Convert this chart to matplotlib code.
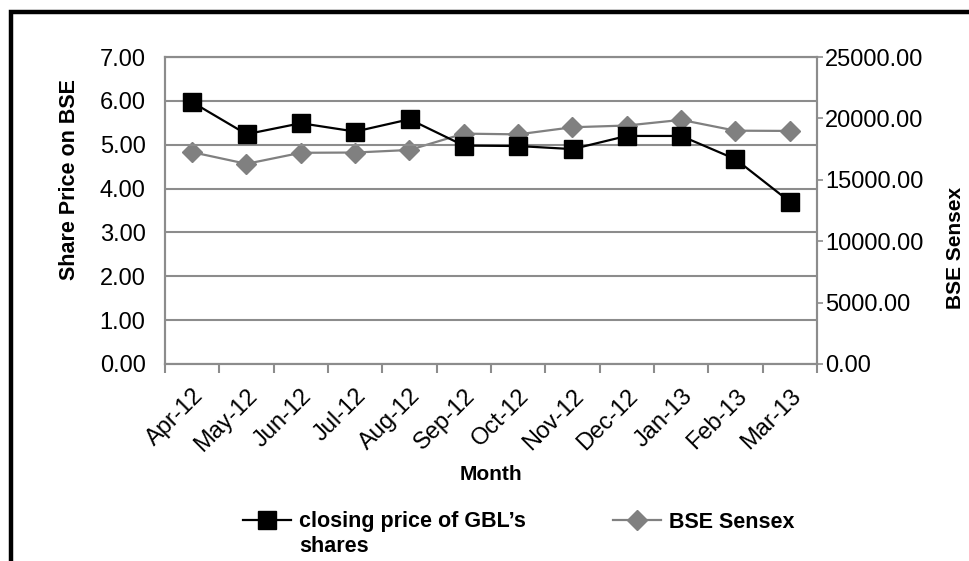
import numpy as np
import matplotlib
matplotlib.use("Agg")
import matplotlib.pyplot as plt
from matplotlib.lines import Line2D
from matplotlib.ticker import FormatStrFormatter, FixedLocator

plt.rcParams['font.family'] = ['Liberation Sans', 'DejaVu Sans']

# ------------------------------------------------------------
# Data
# ------------------------------------------------------------
months = ["Apr-12", "May-12", "Jun-12", "Jul-12", "Aug-12", "Sep-12",
          "Oct-12", "Nov-12", "Dec-12", "Jan-13", "Feb-13", "Mar-13"]
gbl_close = [5.97, 5.24, 5.49, 5.30, 5.58, 4.98, 4.97, 4.90, 5.20, 5.20, 4.67, 3.70]
bse_sensex = [17250, 16300, 17200, 17220, 17430, 18760, 18700, 19280, 19420, 19880, 19000, 18980]

GRID = "#8c8c8c"
SERIES_GRAY = "#808080"

# ------------------------------------------------------------
# Figure
# ------------------------------------------------------------
fig = plt.figure(figsize=(9.69, 5.61), dpi=100)
ax = fig.add_axes([165 / 969, 1 - 364 / 561, (817 - 165) / 969, (364 - 57) / 561])
ax2 = ax.twinx()

x = np.arange(len(months))

ax.plot(x, gbl_close, color="black", lw=1.6, marker="s", ms=13,
        mfc="black", mec="black", zorder=4)
ax2.plot(x, bse_sensex, color=SERIES_GRAY, lw=1.6, marker="D", ms=10.5,
         mfc=SERIES_GRAY, mec=SERIES_GRAY, zorder=3)
ax.set_zorder(ax2.get_zorder() + 1)
ax.patch.set_visible(False)

# left axis
ax.set_xlim(-0.5, len(months) - 0.5)
ax.set_ylim(0, 7)
ax.set_yticks(np.arange(0, 8, 1))
ax.yaxis.set_major_formatter(FormatStrFormatter("%.2f"))
ax.yaxis.grid(True, color=GRID, lw=1.5)
ax.set_axisbelow(True)
ax.tick_params(axis="y", length=0, pad=14, labelsize=17)

# right axis
ax2.set_ylim(0, 25000)
ax2.set_yticks(np.arange(0, 25001, 5000))
ax2.yaxis.set_major_formatter(FormatStrFormatter("%.2f"))
ax2.tick_params(axis="y", length=4, width=1.2, color=GRID, pad=2, labelsize=17)

# x axis: labels at centres, tick marks at boundaries
ax.set_xticks(x)
ax.set_xticklabels(months, rotation=45, ha="right", rotation_mode="anchor")
ax.xaxis.set_minor_locator(FixedLocator(np.arange(-0.5, len(months), 1)))
ax.tick_params(axis="x", which="major", length=0, pad=15, labelsize=17)
ax.tick_params(axis="x", which="minor", length=6.5, width=1.5, color=GRID)

for a in (ax, ax2):
    for s in a.spines.values():
        s.set_color(GRID)
        s.set_linewidth(1.5)

ax.set_xlabel("Month", fontsize=15, fontweight="bold")
ax.xaxis.set_label_coords(0.5, -0.33)
ax.set_ylabel("Share Price on BSE", fontsize=15.5, fontweight="bold")
ax.yaxis.set_label_coords(-0.13, 0.60)
ax2.set_ylabel("BSE Sensex", fontsize=15, fontweight="bold")
ax2.yaxis.set_label_coords(1.198, 0.378)

# ------------------------------------------------------------
# Legend (two entries placed separately)
# ------------------------------------------------------------
h1 = Line2D([], [], color="black", lw=1.6, marker="s", ms=13, mfc="black", mec="black")
h2 = Line2D([], [], color=SERIES_GRAY, lw=1.6, marker="D", ms=10.5,
            mfc=SERIES_GRAY, mec=SERIES_GRAY)
leg_kw = dict(frameon=False, borderpad=0, borderaxespad=0, handlelength=2.25,
              handletextpad=0.35, prop={"size": 15.5, "weight": "bold"})
leg1 = fig.legend([h1], ["closing price of GBL\u2019s"], loc="center left",
                  bbox_to_anchor=(243 / 969, 1 - 522 / 561), **leg_kw)
leg2 = fig.legend([h2], ["BSE Sensex"], loc="center left",
                  bbox_to_anchor=(613 / 969, 1 - 522 / 561), **leg_kw)

fig.canvas.draw()
bb = leg1.get_texts()[0].get_window_extent()
fig.text(bb.x0 / fig.bbox.width, 1 - 547 / 561, "shares", fontsize=15.5,
         fontweight="bold", va="center", ha="left")

# outer frame (left and top edges visible)
fig.add_artist(Line2D([11 / 969, 11 / 969, 1.0], [0.0, 1 - 12 / 561, 1 - 12 / 561],
                      transform=fig.transFigure, color="black", lw=3.2,
                      solid_joinstyle="miter"))

fig.savefig("out.png", dpi=100)
